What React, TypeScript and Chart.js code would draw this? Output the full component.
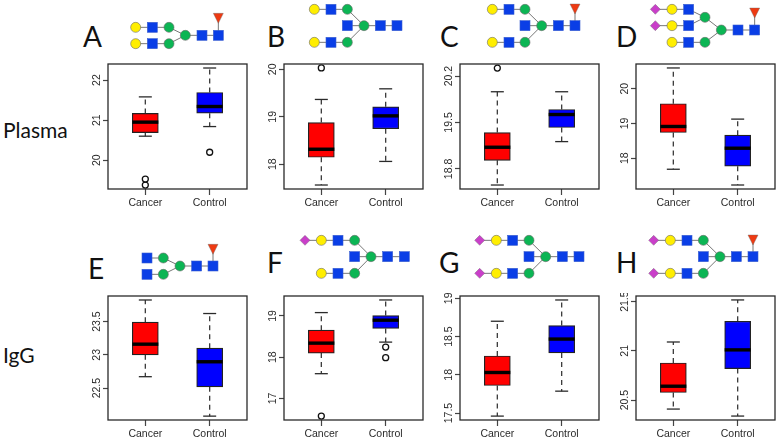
import React, { useEffect, useRef } from "react";
import { Chart, registerables } from "chart.js";

Chart.register(...registerables);

// Categories shared by every panel
const categories = ["Cancer", "Control"];

// Each box: [lower whisker, first quartile, median, third quartile, upper whisker]
const boxesA = [[20.6, 20.69, 20.95, 21.167, 21.58], [20.84, 21.175, 21.34, 21.69, 22.3]];
const boxesB = [[17.563, 18.148, 18.317, 18.88, 19.366], [18.06, 18.75, 19.02, 19.21, 19.59]];
const boxesC = [[18.558, 18.93, 19.127, 19.349, 19.963], [19.212, 19.424, 19.62, 19.696, 19.963]];
const boxesD = [[17.683, 18.74, 18.913, 19.567, 20.596], [17.23, 17.77, 18.288, 18.663, 19.125]];
const boxesE = [[22.672, 23.0, 23.16, 23.49, 23.823], [22.08, 22.52, 22.896, 23.1, 23.62]];
const boxesF = [[17.6, 18.1, 18.34, 18.655, 19.08], [18.365, 18.695, 18.896, 19.008, 19.386]];
const boxesG = [[17.46, 17.86, 18.03, 18.246, 18.7], [17.786, 18.285, 18.467, 18.644, 18.978]];
const boxesH = [[20.409, 20.577, 20.641, 20.877, 21.09], [20.338, 20.82, 21.01, 21.3, 21.517]];

// Outliers per category
const outliersA = [[19.53, 19.38], [20.2]];
const outliersB = [[20.03], []];
const outliersC = [[20.32], []];
const outliersD = [[], []];
const outliersE = [[], []];
const outliersF = [[16.574], [18.245, 17.988]];
const outliersG = [[], []];
const outliersH = [[], []];

// Tick labels
const ticksA = ["20", "21", "22"];
const ticksB = ["18", "19", "20"];
const ticksC = ["18.8", "19.5", "20.2"];
const ticksD = ["18", "19", "20"];
const ticksE = ["22.5", "23", "23.5"];
const ticksF = ["17", "18", "19"];
const ticksG = ["17.5", "18", "18.5", "19"];
const ticksH = ["20.5", "21", "21.5"];

// Value-axis ranges [min, max]
const rangeA = [19.283, 22.4];
const rangeB = [17.479, 20.113];
const rangeC = [18.498, 20.381];
const rangeD = [17.115, 20.71];
const rangeE = [22.022, 23.883];
const rangeF = [16.478, 19.482];
const rangeG = [17.409, 19.03];
const rangeH = [20.298, 21.557];

const boxColors = ["#ff0000", "#0000ff"];
const INK = "#2a2a2a";
const FONT = "Liberation Sans";
const FS = 10.5;

const framePlugin = {
  id: "frame",
  afterDraw(chart: any) {
    const { ctx, chartArea: a } = chart;
    ctx.save();
    ctx.strokeStyle = INK;
    ctx.lineWidth = 1.3;
    ctx.strokeRect(a.left, a.top, a.right - a.left, a.bottom - a.top);
    ctx.restore();
  },
};

// Tick text, placed from the chart's own scales (the y labels read bottom-to-top, as in R)
const axisTextPlugin = {
  id: "axisText",
  afterDraw(chart: any, _args: any, opts: any) {
    const { ctx, chartArea: a, scales } = chart;
    ctx.save();
    ctx.font = `${FS}px "${FONT}"`;
    ctx.fillStyle = INK;
    ctx.textAlign = "center";
    ctx.textBaseline = "middle";
    categories.forEach((c, i) => {
      ctx.fillText(c, scales.x.getPixelForValue(i + 1), a.bottom + 14.5);
    });
    (opts.labels as string[]).forEach((t) => {
      ctx.save();
      ctx.translate(a.left - 11, scales.y.getPixelForValue(Number(t)));
      ctx.rotate(-Math.PI / 2);
      ctx.fillText(t, 0, 0);
      ctx.restore();
    });
    ctx.restore();
  },
};

type PanelProps = {
  left: number; top: number; height: number;
  boxes: number[][]; outliers: number[][]; ticks: string[]; range: number[];
};

const LEFT_M = 40, TOP_M = 3, RIGHT_M = 3, BOTTOM_M = 22, WIDTH = 139;

function Panel({ left, top, height, boxes, outliers, ticks, range }: PanelProps) {
  const ref = useRef<HTMLCanvasElement>(null);
  useEffect(() => {
    const datasets: any[] = [];
    boxes.forEach((b, i) => {
      const x = i + 1;
      const whisker = (a: number, c: number) => ({
        type: "line", order: 3, data: [{ x, y: a }, { x, y: c }],
        borderColor: "#3a3a3a", borderWidth: 1.3, borderDash: [5, 4], pointRadius: 0,
      });
      datasets.push(whisker(b[3], b[4]), whisker(b[1], b[0]));
      datasets.push({
        type: "scatter", order: 1,
        data: [{ x, y: b[0] }, { x, y: b[4] }],
        pointStyle: "line", pointRadius: 6.5, pointBorderColor: INK, pointBorderWidth: 1.3,
      });
      datasets.push({
        type: "scatter", order: 0,
        data: [{ x, y: b[2] }],
        pointStyle: "line", pointRadius: 13, pointBorderColor: "#000", pointBorderWidth: 3.4,
      });
      datasets.push({
        type: "scatter", order: 0,
        data: outliers[i].map((y) => ({ x, y })),
        pointStyle: "circle", pointRadius: 3, pointBackgroundColor: "rgba(0,0,0,0)",
        pointBorderColor: "#111", pointBorderWidth: 1.3,
      });
    });
    datasets.push({
      type: "bar", order: 2,
      data: boxes.map((b, i) => ({ x: i + 1, y: [b[1], b[3]] })),
      backgroundColor: boxColors,
      borderColor: "#222", borderWidth: 1.2, borderSkipped: false,
      barThickness: 26, grouped: false,
    });
    const chart = new Chart(ref.current!, {
      type: "bar",
      data: { datasets },
      plugins: [framePlugin, axisTextPlugin],
      options: {
        responsive: false,
        animation: false,
        layout: { autoPadding: false, padding: { top: TOP_M, right: RIGHT_M, left: 0, bottom: 0 } },
        plugins: { legend: { display: false }, tooltip: { enabled: false }, axisText: { labels: ticks } },
        scales: {
          x: {
            type: "linear", offset: false, min: 0.42, max: 2.58,
            grid: { display: true, offset: false, drawOnChartArea: false, drawTicks: true, tickLength: 6, tickColor: "#444", tickWidth: 1.2 },
            border: { display: false },
            afterBuildTicks: (s: any) => { s.ticks = categories.map((_, i) => ({ value: i + 1 })); },
            afterFit: (s: any) => { s.height = BOTTOM_M; },
            ticks: { display: false },
          },
          y: {
            type: "linear", min: range[0], max: range[1],
            grid: { display: true, offset: false, drawOnChartArea: false, drawTicks: true, tickLength: 5, tickColor: "#444", tickWidth: 1.2 },
            border: { display: false },
            afterBuildTicks: (s: any) => { s.ticks = ticks.map((t) => ({ value: Number(t) })); },
            afterFit: (s: any) => { s.width = LEFT_M; },
            ticks: { display: false },
          },
        },
      },
    } as any);
    return () => chart.destroy();
  }, []);
  return (
    <canvas
      ref={ref}
      width={LEFT_M + WIDTH + RIGHT_M}
      height={TOP_M + height + BOTTOM_M}
      style={{
        position: "absolute", display: "block",
        left: left - LEFT_M, top: top - TOP_M,
        width: LEFT_M + WIDTH + RIGHT_M, height: TOP_M + height + BOTTOM_M,
      }}
    />
  );
}

// Glycan drawing
const BLUE = "#0a3ee6", GREEN = "#0cb554", YELLOW = "#ffee00", MAGENTA = "#c93fc9", RED = "#ee3a12";
type Node = [string, number, number];

function Sym({ n }: { n: Node }) {
  const [k, x, y] = n;
  const s = "#6a6a6a";
  if (k === "S") return <rect x={x - 5} y={y - 5} width={10} height={10} fill={BLUE} stroke="#3a5fd0" strokeWidth={0.6} />;
  if (k === "G") return <circle cx={x} cy={y} r={5} fill={GREEN} stroke={s} strokeWidth={0.6} />;
  if (k === "Y") return <circle cx={x} cy={y} r={5} fill={YELLOW} stroke={s} strokeWidth={0.6} />;
  if (k === "D") return <polygon points={`${x - 5},${y} ${x},${y - 5} ${x + 5},${y} ${x},${y + 5}`} fill={MAGENTA} stroke={s} strokeWidth={0.4} />;
  return <polygon points={`${x - 5},${y - 5} ${x + 5},${y - 5} ${x},${y + 5}`} fill={RED} stroke={s} strokeWidth={0.4} />;
}

function g(ox: number, oy: number, list: [string, number, number][]): Node[] {
  return list.map(([k, x, y]) => [k, ox + x / 3, oy + y / 3] as Node);
}

const glycans: { nodes: Node[]; links: number[][] }[] = [
  { // A
    nodes: g(0, 0, [["Y", 407, 82], ["S", 457, 82], ["G", 507, 82], ["Y", 407, 131], ["S", 457, 131], ["G", 507, 131], ["G", 556, 106], ["S", 606, 106], ["S", 655, 106], ["F", 655, 55]]),
    links: [[0, 1], [1, 2], [3, 4], [4, 5], [2, 6], [5, 6], [6, 7], [7, 8], [8, 9]],
  },
  { // B
    nodes: g(260, 0, [["Y", 163, 28], ["S", 213, 28], ["G", 262, 28], ["Y", 163, 127], ["S", 213, 127], ["G", 262, 127], ["S", 262, 77], ["G", 312, 77], ["S", 361, 77], ["S", 411, 77]]),
    links: [[0, 1], [1, 2], [3, 4], [4, 5], [2, 7], [5, 7], [6, 7], [7, 8], [8, 9]],
  },
  { // C
    nodes: g(260, 0, [["Y", 697, 28], ["S", 747, 28], ["G", 795, 28], ["Y", 697, 127], ["S", 747, 127], ["G", 795, 127], ["S", 795, 77], ["G", 845, 77], ["S", 895, 77], ["S", 945, 77], ["F", 945, 27]]),
    links: [[0, 1], [1, 2], [3, 4], [4, 5], [2, 7], [5, 7], [6, 7], [7, 8], [8, 9], [9, 10]],
  },
  { // D
    nodes: g(519, 0, [["D", 409, 28], ["D", 409, 77], ["Y", 459, 28], ["Y", 459, 77], ["Y", 459, 127], ["S", 509, 28], ["S", 509, 77], ["S", 509, 127], ["G", 558, 52], ["G", 558, 127], ["G", 607, 90], ["S", 657, 90], ["S", 707, 90], ["F", 707, 39]]),
    links: [[0, 2], [1, 3], [2, 5], [3, 6], [4, 7], [5, 8], [6, 8], [7, 9], [8, 10], [9, 10], [10, 11], [11, 12], [12, 13]],
  },
  { // E
    nodes: g(0, 221, [["S", 441, 111], ["G", 490, 111], ["S", 441, 160], ["G", 490, 160], ["G", 540, 135], ["S", 590, 135], ["S", 639, 135], ["F", 639, 85]]),
    links: [[0, 1], [2, 3], [1, 4], [3, 4], [4, 5], [5, 6], [6, 7]],
  },
  { // F
    nodes: g(260, 221, [["D", 135, 58], ["Y", 184, 58], ["S", 234, 58], ["G", 284, 58], ["Y", 184, 157], ["S", 234, 157], ["G", 284, 157], ["S", 284, 107], ["G", 333, 107], ["S", 383, 107], ["S", 433, 107]]),
    links: [[0, 1], [1, 2], [2, 3], [4, 5], [5, 6], [3, 8], [6, 8], [7, 8], [8, 9], [9, 10]],
  },
  { // G
    nodes: g(260, 221, [["D", 659, 58], ["Y", 709, 58], ["S", 758, 58], ["G", 807, 58], ["D", 659, 157], ["Y", 709, 157], ["S", 758, 157], ["G", 807, 157], ["S", 807, 107], ["G", 857, 107], ["S", 907, 107], ["S", 957, 107]]),
    links: [[0, 1], [1, 2], [2, 3], [4, 5], [5, 6], [6, 7], [3, 9], [7, 9], [8, 9], [9, 10], [10, 11]],
  },
  { // H
    nodes: g(519, 221, [["D", 404, 58], ["Y", 454, 58], ["S", 504, 58], ["G", 553, 58], ["D", 404, 157], ["Y", 454, 157], ["S", 504, 157], ["G", 553, 157], ["S", 553, 107], ["G", 603, 107], ["S", 652, 107], ["S", 702, 107], ["F", 702, 57]]),
    links: [[0, 1], [1, 2], [2, 3], [4, 5], [5, 6], [6, 7], [3, 9], [7, 9], [8, 9], [9, 10], [10, 11], [11, 12]],
  },
];

const panels = [
  { letter: "A", lx: 83, ly: 22, left: 108, top: 64, height: 125, boxes: boxesA, outliers: outliersA, ticks: ticksA, range: rangeA },
  { letter: "B", lx: 267, ly: 22, left: 284, top: 64, height: 125, boxes: boxesB, outliers: outliersB, ticks: ticksB, range: rangeB },
  { letter: "C", lx: 440, ly: 22, left: 460, top: 64, height: 125, boxes: boxesC, outliers: outliersC, ticks: ticksC, range: rangeC },
  { letter: "D", lx: 616, ly: 22, left: 636, top: 64, height: 125, boxes: boxesD, outliers: outliersD, ticks: ticksD, range: rangeD },
  { letter: "E", lx: 88, ly: 254, left: 108, top: 296, height: 124, boxes: boxesE, outliers: outliersE, ticks: ticksE, range: rangeE },
  { letter: "F", lx: 267, ly: 248, left: 284, top: 296, height: 124, boxes: boxesF, outliers: outliersF, ticks: ticksF, range: rangeF },
  { letter: "G", lx: 439, ly: 248, left: 460, top: 296, height: 124, boxes: boxesG, outliers: outliersG, ticks: ticksG, range: rangeG },
  { letter: "H", lx: 616, ly: 248, left: 636, top: 296, height: 124, boxes: boxesH, outliers: outliersH, ticks: ticksH, range: rangeH },
];

const rowLabels = [
  { text: "Plasma", x: 3, y: 119 },
  { text: "IgG", x: 3, y: 344 },
];

const textStyle: React.CSSProperties = {
  position: "absolute", fontFamily: "Lato", color: "#111", lineHeight: "1", whiteSpace: "nowrap",
};

export default function App() {
  return (
    <div style={{ position: "absolute", left: 0, top: 0, width: 779, height: 442, overflow: "hidden", background: "#fff" }}>
      <svg width={779} height={442} style={{ position: "absolute", left: 0, top: 0 }}>
        {glycans.map((gl, i) => (
          <g key={i}>
            {gl.links.map(([a, b], j) => (
              <line key={j} x1={gl.nodes[a][1]} y1={gl.nodes[a][2]} x2={gl.nodes[b][1]} y2={gl.nodes[b][2]} stroke="#777" strokeWidth={1} />
            ))}
            {gl.nodes.map((n, j) => <Sym key={j} n={n} />)}
          </g>
        ))}
      </svg>
      {panels.map((p) => (
        <React.Fragment key={p.letter}>
          <div style={{ ...textStyle, left: p.lx, top: p.ly, fontSize: 28 }}>{p.letter}</div>
          <Panel left={p.left} top={p.top} height={p.height} boxes={p.boxes} outliers={p.outliers} ticks={p.ticks} range={p.range} />
        </React.Fragment>
      ))}
      {rowLabels.map((r) => (
        <div key={r.text} style={{ ...textStyle, left: r.x, top: r.y, fontSize: 21 }}>{r.text}</div>
      ))}
    </div>
  );
}
